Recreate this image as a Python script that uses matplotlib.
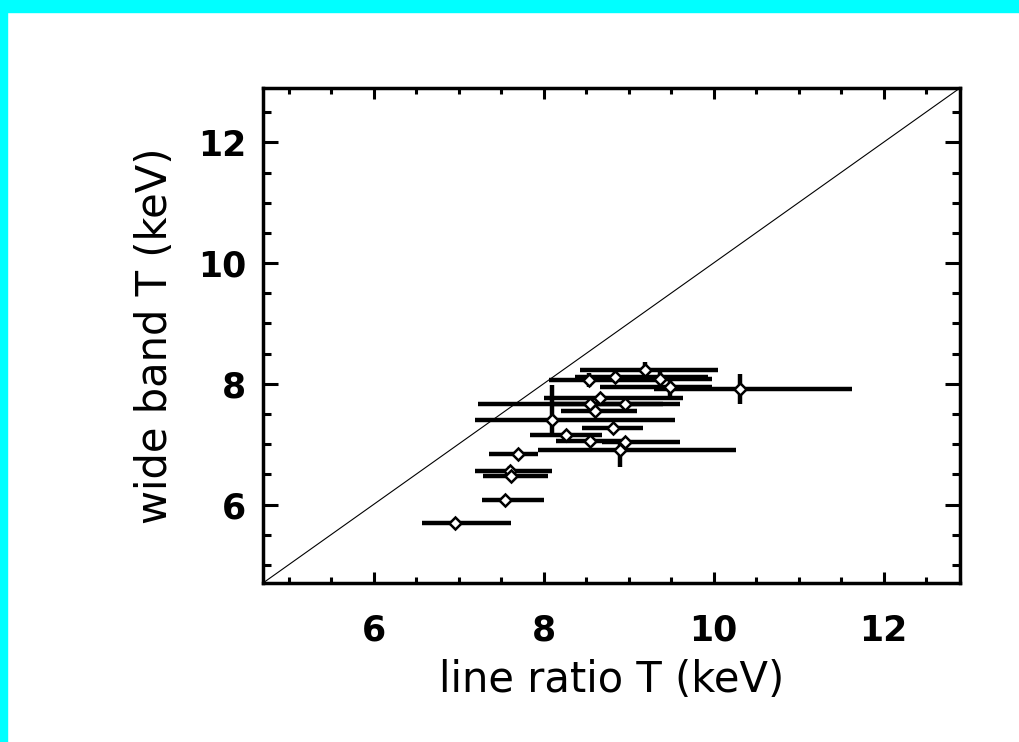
import numpy as np
import matplotlib
matplotlib.use('Agg')
import matplotlib.pyplot as plt
from matplotlib.patches import Rectangle
from matplotlib.ticker import MultipleLocator

# line ratio T, wide band T (keV) with error ranges
t_line = [6.96, 7.55, 7.61, 7.62, 7.70, 8.90, 8.27, 8.55, 8.96, 8.82,
          8.10, 8.55, 8.66, 8.53, 9.19, 8.84, 9.37, 9.49, 10.31, 8.96, 8.60]
t_wide = [5.70, 6.07, 6.56, 6.47, 6.84, 6.90, 7.15, 7.06, 7.03, 7.27,
          7.40, 7.67, 7.76, 8.06, 8.23, 8.12, 8.08, 7.95, 7.92, 7.67, 7.55]
x_lo = [6.57, 7.28, 7.19, 7.29, 7.36, 7.94, 7.84, 8.15, 8.69, 8.45,
        7.19, 7.23, 8.00, 8.06, 8.43, 8.37, 8.66, 8.66, 9.30, 8.10, 8.20]
x_hi = [7.62, 8.00, 8.10, 8.05, 7.94, 10.26, 8.69, 8.95, 9.61, 9.17,
        9.55, 9.40, 9.64, 9.37, 10.05, 9.94, 9.98, 9.98, 11.63, 9.60, 9.10]
y_lo = [0.05, 0.05, 0.07, 0.07, 0.05, 0.28, 0.05, 0.05, 0.05, 0.05,
        0.22, 0.05, 0.05, 0.12, 0.13, 0.08, 0.13, 0.20, 0.25, 0.05, 0.05]
y_hi = [0.05, 0.05, 0.07, 0.07, 0.05, 0.10, 0.05, 0.05, 0.05, 0.05,
        0.58, 0.05, 0.05, 0.12, 0.13, 0.08, 0.13, 0.20, 0.25, 0.05, 0.05]

lim = [4.7, 12.9]

t_line = np.array(t_line)
t_wide = np.array(t_wide)
xerr = [t_line - np.array(x_lo), np.array(x_hi) - t_line]
yerr = [np.array(y_lo), np.array(y_hi)]

plt.rcParams['font.family'] = ['DejaVu Sans']
plt.rcParams['font.weight'] = 'bold'
plt.rcParams['axes.labelweight'] = 'normal'

fig = plt.figure(figsize=(10.19, 7.42), dpi=100)
fig.patches.append(Rectangle((0, 1 - 12/742), 1, 12/742, transform=fig.transFigure,
                             color='#00ffff', zorder=0))
fig.patches.append(Rectangle((0, 0), 7/1019, 1, transform=fig.transFigure,
                             color='#00ffff', zorder=0))

ax = fig.add_axes([263/1019, 1 - 583/742, 697/1019, 495/742])

ax.plot(lim, lim, color='black', lw=0.8)
ax.errorbar(t_line, t_wide, xerr=xerr, yerr=yerr, fmt='D', ms=6,
            mfc='white', mec='black', mew=1.8, ecolor='black',
            elinewidth=3.2, capsize=0)

ax.set_xlim(lim)
ax.set_ylim(lim)
ax.xaxis.set_major_locator(MultipleLocator(2))
ax.xaxis.set_minor_locator(MultipleLocator(0.5))
ax.yaxis.set_major_locator(MultipleLocator(2))
ax.yaxis.set_minor_locator(MultipleLocator(0.5))

for s in ax.spines.values():
    s.set_linewidth(2.5)
ax.tick_params(axis='both', which='both', direction='in', top=True, right=True,
               width=2.2, labelsize=25)
ax.tick_params(axis='x', which='major', length=8, pad=22)
ax.tick_params(axis='x', which='minor', length=4)
ax.tick_params(axis='y', which='major', length=11, pad=12)
ax.tick_params(axis='y', which='minor', length=5.5)

ax.set_xlabel('line ratio T (keV)', fontsize=30, labelpad=8)
ax.set_ylabel('wide band T (keV)', fontsize=30, labelpad=16)

fig.savefig('out.png', dpi=100)
